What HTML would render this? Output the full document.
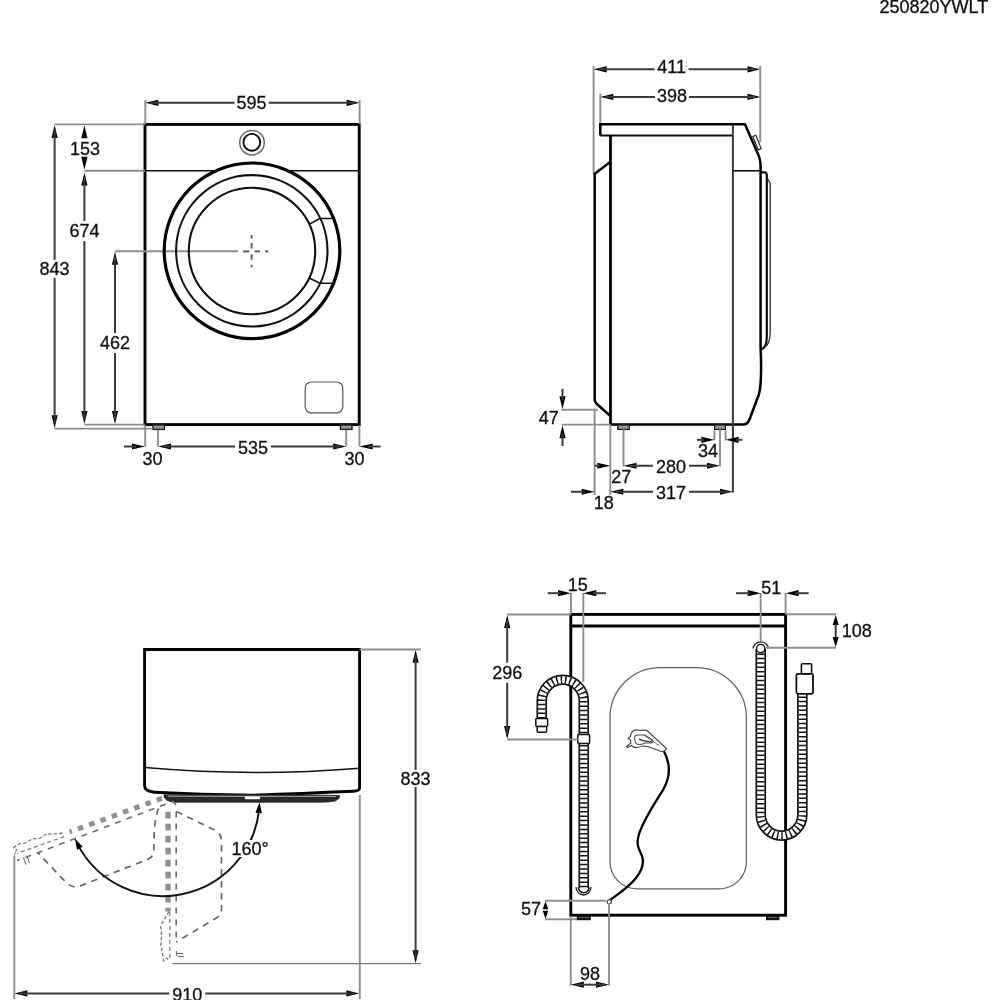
<!DOCTYPE html>
<html><head><meta charset="utf-8"><style>
html,body{margin:0;padding:0;background:#fff;}
svg{display:block;}
text{font-family:"Liberation Sans",sans-serif;}
svg{will-change:transform;}
</style></head><body>
<svg width="1000" height="1000" viewBox="0 0 1000 1000">
<rect width="1000" height="1000" fill="#fff"/>
<text x="933.90" y="13.34" font-size="18" text-anchor="middle" fill="#111" stroke="#111" stroke-width="0.3">250820YWLT</text>
<rect x="145.00" y="124.40" width="214.20" height="300.20" rx="0" stroke="#000" stroke-width="2.9" fill="none" />
<line x1="145.20" y1="170.70" x2="359.40" y2="170.70" stroke="#111" stroke-width="1.5" />
<circle cx="252.00" cy="142.70" r="12.30" stroke="#6a6a6a" stroke-width="1.5" fill="none" />
<circle cx="251.80" cy="142.30" r="8.40" stroke="#111" stroke-width="1.9" fill="none" />
<circle cx="252.00" cy="250.80" r="87.80" stroke="none" stroke-width="0" fill="#fff" />
<line x1="115.00" y1="251.30" x2="238.00" y2="251.30" stroke="#8e8e8e" stroke-width="1.9" />
<circle cx="252.00" cy="250.80" r="87.80" stroke="#000" stroke-width="3.2" fill="none" />
<circle cx="251.80" cy="250.80" r="75.70" stroke="#111" stroke-width="2.1" fill="none" />
<circle cx="252.00" cy="251.00" r="63.20" stroke="#111" stroke-width="2.1" fill="none" />
<path d="M309.8 223.9 L319.7 218.5 H332.5 M309.8 278.3 L319.7 283.2 H332.5" stroke="#111" stroke-width="1.6" fill="none" />
<line x1="243.00" y1="251.40" x2="249.40" y2="251.40" stroke="#555" stroke-width="1.8" />
<line x1="254.50" y1="251.40" x2="260.00" y2="251.40" stroke="#555" stroke-width="1.8" />
<line x1="265.00" y1="251.40" x2="268.30" y2="251.40" stroke="#555" stroke-width="1.8" />
<line x1="251.60" y1="235.00" x2="251.60" y2="238.60" stroke="#555" stroke-width="1.8" />
<line x1="251.60" y1="243.00" x2="251.60" y2="248.50" stroke="#555" stroke-width="1.8" />
<line x1="251.60" y1="254.30" x2="251.60" y2="259.70" stroke="#555" stroke-width="1.8" />
<line x1="251.60" y1="264.70" x2="251.60" y2="267.40" stroke="#555" stroke-width="1.8" />
<rect x="305.20" y="382.00" width="37.60" height="30.80" rx="6" stroke="#555" stroke-width="1.2" fill="none" />
<rect x="152.80" y="425.00" width="11.60" height="4.40" rx="0" stroke="#222" stroke-width="1.4" fill="#999" />
<rect x="340.40" y="425.00" width="11.60" height="4.40" rx="0" stroke="#222" stroke-width="1.4" fill="#999" />
<polygon points="145.30,102.80 158.30,99.70 158.30,105.90" fill="#000"/>
<polygon points="359.60,102.80 346.60,105.90 346.60,99.70" fill="#000"/>
<line x1="150.30" y1="102.80" x2="234.60" y2="102.80" stroke="#3a3a3a" stroke-width="2.0" />
<line x1="268.60" y1="102.80" x2="354.60" y2="102.80" stroke="#3a3a3a" stroke-width="2.0" />
<text x="251.60" y="109.24" font-size="18" text-anchor="middle" fill="#111" stroke="#111" stroke-width="0.3">595</text>
<line x1="145.30" y1="100.00" x2="145.30" y2="124.00" stroke="#8e8e8e" stroke-width="1.9" />
<line x1="359.60" y1="100.00" x2="359.60" y2="124.00" stroke="#8e8e8e" stroke-width="1.9" />
<polygon points="54.60,124.90 57.70,137.90 51.50,137.90" fill="#000"/>
<polygon points="54.60,428.20 51.50,415.20 57.70,415.20" fill="#000"/>
<line x1="54.60" y1="129.90" x2="54.60" y2="259.80" stroke="#3a3a3a" stroke-width="2.0" />
<line x1="54.60" y1="277.80" x2="54.60" y2="423.20" stroke="#3a3a3a" stroke-width="2.0" />
<text x="54.60" y="275.24" font-size="18" text-anchor="middle" fill="#111" stroke="#111" stroke-width="0.3">843</text>
<line x1="54.40" y1="124.40" x2="145.00" y2="124.40" stroke="#8e8e8e" stroke-width="1.9" />
<line x1="54.60" y1="428.60" x2="153.00" y2="428.60" stroke="#8e8e8e" stroke-width="1.9" />
<polygon points="84.40,125.20 87.50,138.20 81.30,138.20" fill="#000"/>
<polygon points="84.40,169.80 81.30,156.80 87.50,156.80" fill="#000"/>
<text x="85.00" y="154.84" font-size="18" text-anchor="middle" fill="#111" stroke="#111" stroke-width="0.3">153</text>
<polygon points="84.40,172.60 87.50,185.60 81.30,185.60" fill="#000"/>
<polygon points="84.40,424.00 81.30,411.00 87.50,411.00" fill="#000"/>
<line x1="84.40" y1="177.60" x2="84.40" y2="221.00" stroke="#3a3a3a" stroke-width="2.0" />
<line x1="84.40" y1="241.00" x2="84.40" y2="419.00" stroke="#3a3a3a" stroke-width="2.0" />
<text x="84.40" y="237.44" font-size="18" text-anchor="middle" fill="#111" stroke="#111" stroke-width="0.3">674</text>
<line x1="84.40" y1="170.80" x2="145.00" y2="170.80" stroke="#8e8e8e" stroke-width="1.9" />
<polygon points="115.00,251.80 118.10,264.80 111.90,264.80" fill="#000"/>
<polygon points="115.00,424.00 111.90,411.00 118.10,411.00" fill="#000"/>
<line x1="115.00" y1="256.80" x2="115.00" y2="333.00" stroke="#3a3a3a" stroke-width="2.0" />
<line x1="115.00" y1="353.00" x2="115.00" y2="419.00" stroke="#3a3a3a" stroke-width="2.0" />
<text x="115.00" y="349.44" font-size="18" text-anchor="middle" fill="#111" stroke="#111" stroke-width="0.3">462</text>
<line x1="84.40" y1="424.60" x2="145.00" y2="424.60" stroke="#8e8e8e" stroke-width="1.9" />
<polygon points="158.00,446.50 171.00,443.40 171.00,449.60" fill="#000"/>
<polygon points="346.20,446.50 333.20,449.60 333.20,443.40" fill="#000"/>
<line x1="163.00" y1="446.50" x2="235.00" y2="446.50" stroke="#3a3a3a" stroke-width="2.0" />
<line x1="271.00" y1="446.50" x2="341.20" y2="446.50" stroke="#3a3a3a" stroke-width="2.0" />
<text x="253.00" y="453.64" font-size="18" text-anchor="middle" fill="#111" stroke="#111" stroke-width="0.3">535</text>
<polygon points="145.00,446.50 132.00,449.60 132.00,443.40" fill="#000"/>
<line x1="124.00" y1="446.50" x2="136.00" y2="446.50" stroke="#3a3a3a" stroke-width="2.0" />
<polygon points="359.60,446.50 372.60,443.40 372.60,449.60" fill="#000"/>
<line x1="368.00" y1="446.50" x2="380.70" y2="446.50" stroke="#3a3a3a" stroke-width="2.0" />
<text x="152.50" y="464.94" font-size="18" text-anchor="middle" fill="#111" stroke="#111" stroke-width="0.3">30</text>
<text x="354.50" y="464.94" font-size="18" text-anchor="middle" fill="#111" stroke="#111" stroke-width="0.3">30</text>
<line x1="145.20" y1="425.00" x2="145.20" y2="446.50" stroke="#8e8e8e" stroke-width="1.9" />
<line x1="359.40" y1="425.00" x2="359.40" y2="446.50" stroke="#8e8e8e" stroke-width="1.9" />
<line x1="158.00" y1="430.00" x2="158.00" y2="446.50" stroke="#8e8e8e" stroke-width="1.9" />
<line x1="346.20" y1="430.00" x2="346.20" y2="446.50" stroke="#8e8e8e" stroke-width="1.9" />
<polygon points="593.60,69.30 606.60,66.20 606.60,72.40" fill="#000"/>
<polygon points="760.50,69.30 747.50,72.40 747.50,66.20" fill="#000"/>
<line x1="598.60" y1="69.30" x2="654.60" y2="69.30" stroke="#3a3a3a" stroke-width="2.0" />
<line x1="688.60" y1="69.30" x2="755.50" y2="69.30" stroke="#3a3a3a" stroke-width="2.0" />
<text x="671.60" y="72.84" font-size="18" text-anchor="middle" fill="#111" stroke="#111" stroke-width="0.3">411</text>
<polygon points="600.30,96.90 613.30,93.80 613.30,100.00" fill="#000"/>
<polygon points="760.50,96.90 747.50,100.00 747.50,93.80" fill="#000"/>
<line x1="605.30" y1="96.90" x2="655.00" y2="96.90" stroke="#3a3a3a" stroke-width="2.0" />
<line x1="689.00" y1="96.90" x2="755.50" y2="96.90" stroke="#3a3a3a" stroke-width="2.0" />
<text x="672.00" y="102.24" font-size="18" text-anchor="middle" fill="#111" stroke="#111" stroke-width="0.3">398</text>
<line x1="593.60" y1="66.00" x2="593.60" y2="174.00" stroke="#8e8e8e" stroke-width="1.9" />
<line x1="600.30" y1="93.50" x2="600.30" y2="124.00" stroke="#8e8e8e" stroke-width="1.9" />
<line x1="760.20" y1="66.00" x2="760.20" y2="142.00" stroke="#8e8e8e" stroke-width="1.9" />
<line x1="686.30" y1="61.50" x2="686.30" y2="72.00" stroke="#aaa" stroke-width="1.0" stroke-dasharray="2.2 1.6"/>
<path d="M600.3 135.5 V124.2 H745 L757.7 153.5 Q760.6 159 760.6 167 V348 C761.6 370 761.6 384 759 394 L749.5 419.5 Q747.5 424.6 743 424.6 H610.5" stroke="#000" stroke-width="2.5" fill="none" />
<path d="M600.3 135.5 H733" stroke="#111" stroke-width="1.8" fill="none" />
<path d="M610.5 135.5 V424.6" stroke="#000" stroke-width="2.8" fill="none" />
<line x1="732.90" y1="124.50" x2="732.90" y2="492.50" stroke="#3c3c3c" stroke-width="2.0" />
<line x1="733.00" y1="170.80" x2="760.60" y2="170.80" stroke="#111" stroke-width="1.6" />
<path d="M752.8 136.5 L755.8 135.2 L761.2 148.6 L758.4 150 Z" stroke="#222" stroke-width="1.2" fill="none" />
<path d="M610.5 161.8 L594.7 173.8 V399.8 Q594.7 402 596.6 403.8 L609.5 415.3" stroke="#000" stroke-width="2.5" fill="none" />
<path d="M760.6 172.4 H765 Q766.8 172.4 766.8 176 V336 Q766.8 348.5 761.2 349" stroke="#000" stroke-width="2.1" fill="none" />
<path d="M766 176 L770.2 183.2 V332 Q770.2 341 766.5 346" stroke="#222" stroke-width="1.2" fill="none" />
<rect x="617.80" y="425.00" width="11.40" height="4.40" rx="0" stroke="#222" stroke-width="1.4" fill="#999" />
<rect x="714.60" y="425.00" width="10.80" height="4.40" rx="0" stroke="#222" stroke-width="1.4" fill="#999" />
<polygon points="562.50,409.20 559.40,396.20 565.60,396.20" fill="#000"/>
<line x1="562.50" y1="388.80" x2="562.50" y2="400.00" stroke="#3a3a3a" stroke-width="2.0" />
<polygon points="562.50,425.20 565.60,438.20 559.40,438.20" fill="#000"/>
<line x1="562.50" y1="434.00" x2="562.50" y2="446.00" stroke="#3a3a3a" stroke-width="2.0" />
<line x1="561.50" y1="409.80" x2="598.00" y2="409.80" stroke="#8e8e8e" stroke-width="1.9" />
<line x1="561.50" y1="424.60" x2="610.50" y2="424.60" stroke="#8e8e8e" stroke-width="1.9" />
<text x="548.75" y="423.94" font-size="18" text-anchor="middle" fill="#111" stroke="#111" stroke-width="0.3">47</text>
<line x1="594.60" y1="410.00" x2="594.60" y2="495.00" stroke="#8e8e8e" stroke-width="1.9" />
<line x1="610.30" y1="425.00" x2="610.30" y2="495.00" stroke="#8e8e8e" stroke-width="1.9" />
<polygon points="610.30,465.75 597.30,468.85 597.30,462.65" fill="#000"/>
<line x1="594.60" y1="465.75" x2="600.00" y2="465.75" stroke="#3a3a3a" stroke-width="2.0" />
<text x="621.30" y="483.44" font-size="18" text-anchor="middle" fill="#111" stroke="#111" stroke-width="0.3">27</text>
<polygon points="594.60,491.75 581.60,494.85 581.60,488.65" fill="#000"/>
<line x1="571.00" y1="491.75" x2="585.00" y2="491.75" stroke="#3a3a3a" stroke-width="2.0" />
<text x="603.75" y="508.94" font-size="18" text-anchor="middle" fill="#111" stroke="#111" stroke-width="0.3">18</text>
<polygon points="610.30,491.75 623.30,488.65 623.30,494.85" fill="#000"/>
<polygon points="733.00,491.75 720.00,494.85 720.00,488.65" fill="#000"/>
<line x1="615.30" y1="491.75" x2="653.00" y2="491.75" stroke="#3a3a3a" stroke-width="2.0" />
<line x1="689.00" y1="491.75" x2="728.00" y2="491.75" stroke="#3a3a3a" stroke-width="2.0" />
<text x="671.00" y="499.14" font-size="18" text-anchor="middle" fill="#111" stroke="#111" stroke-width="0.3">317</text>
<polygon points="623.50,465.75 636.50,462.65 636.50,468.85" fill="#000"/>
<polygon points="720.00,465.75 707.00,468.85 707.00,462.65" fill="#000"/>
<line x1="628.50" y1="465.75" x2="653.00" y2="465.75" stroke="#3a3a3a" stroke-width="2.0" />
<line x1="689.00" y1="465.75" x2="715.00" y2="465.75" stroke="#3a3a3a" stroke-width="2.0" />
<text x="671.00" y="472.64" font-size="18" text-anchor="middle" fill="#111" stroke="#111" stroke-width="0.3">280</text>
<line x1="623.50" y1="429.50" x2="623.50" y2="466.50" stroke="#8e8e8e" stroke-width="1.9" />
<line x1="720.00" y1="429.50" x2="720.00" y2="466.50" stroke="#8e8e8e" stroke-width="1.9" />
<line x1="714.40" y1="429.50" x2="714.40" y2="440.50" stroke="#8e8e8e" stroke-width="1.9" />
<line x1="725.60" y1="429.50" x2="725.60" y2="440.50" stroke="#8e8e8e" stroke-width="1.9" />
<polygon points="714.40,439.80 701.40,442.90 701.40,436.70" fill="#000"/>
<line x1="697.00" y1="439.80" x2="704.00" y2="439.80" stroke="#3a3a3a" stroke-width="2.0" />
<polygon points="725.60,439.80 738.60,436.70 738.60,442.90" fill="#000"/>
<line x1="736.00" y1="439.80" x2="742.40" y2="439.80" stroke="#3a3a3a" stroke-width="2.0" />
<text x="708.00" y="457.24" font-size="18" text-anchor="middle" fill="#111" stroke="#111" stroke-width="0.3">34</text>
<path d="M144.6 649.5 H359.6 V787.8 Q359.6 791 353.2 791.3 Q300 793.7 252 795.2 Q200 794.5 154.4 792.2 Q144.6 791.5 144.6 785.6 Z" stroke="#000" stroke-width="2.9" fill="none" />
<path d="M145 767.5 Q252 777 359.6 768.2" stroke="#111" stroke-width="1.6" fill="none" />
<path d="M164 794.8 Q300 794.5 339.2 795.5 Q341 798 335 801 Q330 802.2 320 802.2 H176 Q166 802 164 797 Z" stroke="#222" stroke-width="0.8" fill="#2a2a2a" />
<path d="M168 796.2 Q260 796 336 796.5" stroke="#999" stroke-width="1.2" fill="none" />
<rect x="244.70" y="796.60" width="15.40" height="2.60" rx="1" stroke="none" stroke-width="0" fill="#fff" />
<polygon points="415.60,649.80 418.70,662.80 412.50,662.80" fill="#000"/>
<polygon points="415.60,963.30 412.50,950.30 418.70,950.30" fill="#000"/>
<line x1="415.60" y1="654.80" x2="415.60" y2="770.00" stroke="#3a3a3a" stroke-width="2.0" />
<line x1="415.60" y1="787.00" x2="415.60" y2="958.30" stroke="#3a3a3a" stroke-width="2.0" />
<text x="415.60" y="784.94" font-size="18" text-anchor="middle" fill="#111" stroke="#111" stroke-width="0.3">833</text>
<line x1="359.60" y1="649.50" x2="421.00" y2="649.50" stroke="#8e8e8e" stroke-width="1.9" />
<line x1="172.50" y1="963.60" x2="421.00" y2="963.60" stroke="#777" stroke-width="1.4" />
<polygon points="14.30,993.40 27.30,990.30 27.30,996.50" fill="#000"/>
<polygon points="359.40,993.40 346.40,996.50 346.40,990.30" fill="#000"/>
<line x1="19.30" y1="993.40" x2="169.30" y2="993.40" stroke="#3a3a3a" stroke-width="2.0" />
<line x1="205.30" y1="993.40" x2="354.40" y2="993.40" stroke="#3a3a3a" stroke-width="2.0" />
<text x="187.30" y="1000.84" font-size="18" text-anchor="middle" fill="#111" stroke="#111" stroke-width="0.3">910</text>
<line x1="14.30" y1="856.00" x2="14.30" y2="999.00" stroke="#8e8e8e" stroke-width="1.9" />
<line x1="359.80" y1="795.00" x2="359.80" y2="999.00" stroke="#8e8e8e" stroke-width="1.9" />
<path d="M168 811.8 V911.5" stroke="#8f8f8f" stroke-width="5.4" fill="none" stroke-dasharray="6.8 5.2" stroke-linecap="butt" stroke-linejoin="round"/>
<path d="M169.8 912 V961" stroke="#777" stroke-width="1.2" fill="none" stroke-dasharray="4 3" stroke-linecap="butt" stroke-linejoin="round"/>
<path d="M169 911.5 L163.5 920.5 L160.8 926.8 L161.7 935.8 L160.8 944.8 L162.6 953.8 L163.5 961 L166.5 958 L169.8 961" stroke="#777" stroke-width="1.3" fill="none" stroke-dasharray="3.5 2" stroke-linecap="butt" stroke-linejoin="round"/>
<path d="M172 801 Q176.2 803 176.2 808 V943" stroke="#6a6a6a" stroke-width="1.6" fill="none" stroke-dasharray="6 6" stroke-linecap="butt" stroke-linejoin="round"/>
<path d="M176.4 811.5 L215.5 830.5 Q221.5 834 221.5 841 V910 Q221.5 915 215.5 918.5 L176.2 942" stroke="#666" stroke-width="1.7" fill="none" stroke-dasharray="6.5 5.5" stroke-linecap="butt" stroke-linejoin="round"/>
<line x1="176.50" y1="951.00" x2="176.50" y2="956.00" stroke="#777" stroke-width="1.2" />
<line x1="177.00" y1="953.50" x2="183.00" y2="953.50" stroke="#777" stroke-width="1.2" />
<line x1="178.00" y1="956.50" x2="184.00" y2="956.50" stroke="#777" stroke-width="1.2" />
<path d="M162 798.2 L69.6 832" stroke="#8f8f8f" stroke-width="5.0" fill="none" stroke-dasharray="5.5 6.5" stroke-linecap="butt" stroke-linejoin="round"/>
<path d="M62.6 833 L53 834.2 L46.6 833.8 L40.2 838.2 L32.2 839 L25 843 L19.4 843.8 L13.8 847.4 L17 850.2" stroke="#777" stroke-width="1.3" fill="none" stroke-dasharray="3.5 2" stroke-linecap="butt" stroke-linejoin="round"/>
<path d="M64.2 836.6 L17 853.4" stroke="#777" stroke-width="1.2" fill="none" stroke-dasharray="4 3" stroke-linecap="butt" stroke-linejoin="round"/>
<path d="M165.6 804.2 L17 860.6" stroke="#6a6a6a" stroke-width="1.6" fill="none" stroke-dasharray="6 6" stroke-linecap="butt" stroke-linejoin="round"/>
<path d="M158.4 808.5 Q154.6 820 154.2 833 L153.8 851 Q153.6 856.5 148.5 859 L80 886 Q73 888.5 67 883.4 L37.8 852.7" stroke="#666" stroke-width="1.7" fill="none" stroke-dasharray="6.5 5.5" stroke-linecap="butt" stroke-linejoin="round"/>
<line x1="23.40" y1="857.40" x2="26.00" y2="864.60" stroke="#777" stroke-width="1.2" />
<line x1="27.00" y1="856.00" x2="29.50" y2="863.00" stroke="#777" stroke-width="1.2" />
<path d="M17 850.2 Q14.3 852.5 14.3 858" stroke="#8e8e8e" stroke-width="1.1" fill="none" />
<path d="M258.98 810.52 A96.5 96.5 0 0 1 78.70 846.38" stroke="#111" stroke-width="2.0" fill="none" />
<polygon points="259.57,801.96 261.83,813.19 255.45,812.65" fill="#000"/>
<polygon points="74.81,838.54 82.69,846.86 77.00,849.79" fill="#000"/>
<rect x="232.00" y="840.00" width="38.00" height="17.00" rx="0" stroke="none" stroke-width="0" fill="#fff" />
<text x="250.00" y="855.44" font-size="18" text-anchor="middle" fill="#111" stroke="#111" stroke-width="0.3">160°</text>
<rect x="570.80" y="614.40" width="214.80" height="300.80" rx="0" stroke="#000" stroke-width="2.9" fill="none" />
<line x1="570.80" y1="626.00" x2="785.60" y2="626.00" stroke="#000" stroke-width="2.9" />
<path d="M610 717.6 A50 50 0 0 1 660 667.6 H696.4 A50 50 0 0 1 746.4 717.6 V861.8 A27 27 0 0 1 719.4 888.8 H637 A27 27 0 0 1 610 861.8 Z" stroke="#666" stroke-width="1.3" fill="none" />
<rect x="576.80" y="915.20" width="14.00" height="5.00" rx="0" stroke="none" stroke-width="0" fill="#111" />
<line x1="579.00" y1="917.60" x2="589.00" y2="917.60" stroke="#666" stroke-width="1" />
<rect x="766.00" y="915.20" width="13.40" height="5.00" rx="0" stroke="none" stroke-width="0" fill="#111" />
<line x1="768.00" y1="917.60" x2="777.00" y2="917.60" stroke="#666" stroke-width="1" />
<path d="M541.75 718.5 V700.75 A21 21 0 0 1 583.75 700.75 V888" stroke="#111" stroke-width="10.6" fill="none" stroke-linecap="butt"/>
<path d="M541.75 718.5 V700.75 A21 21 0 0 1 583.75 700.75 V888" stroke="#fff" stroke-width="7.199999999999999" fill="none" stroke-linecap="butt"/>
<path d="M541.75 718.5 V700.75 A21 21 0 0 1 583.75 700.75 V888" stroke="#111" stroke-width="7.3999999999999995" fill="none" stroke-linecap="butt" stroke-dasharray="1.5 2.9000000000000004"/>
<path d="M578.5 887.5 A5.25 5.25 0 0 0 589 887.5" stroke="#111" stroke-width="1.6" fill="none" />
<path d="M576 887 A7.5 8 0 0 0 591 887" stroke="#222" stroke-width="1.3" fill="none" />
<rect x="535.80" y="718.60" width="11.80" height="8.00" rx="1" stroke="#111" stroke-width="1.5" fill="#fff" />
<rect x="537.20" y="726.60" width="9.40" height="5.60" rx="1" stroke="#111" stroke-width="1.5" fill="#fff" />
<rect x="577.80" y="734.60" width="11.80" height="9.00" rx="1" stroke="#111" stroke-width="1.5" fill="#fff" />
<path d="M760.75 649 V814.8 A20.8 20.8 0 0 0 802.35 814.8 V694" stroke="#111" stroke-width="10.6" fill="none" stroke-linecap="butt"/>
<path d="M760.75 649 V814.8 A20.8 20.8 0 0 0 802.35 814.8 V694" stroke="#fff" stroke-width="7.199999999999999" fill="none" stroke-linecap="butt"/>
<path d="M760.75 649 V814.8 A20.8 20.8 0 0 0 802.35 814.8 V694" stroke="#111" stroke-width="7.3999999999999995" fill="none" stroke-linecap="butt" stroke-dasharray="1.5 2.9000000000000004"/>
<path d="M753 648.5 A7.9 7.9 0 0 1 768.6 648.5" stroke="#222" stroke-width="1.3" fill="none" />
<circle cx="760.70" cy="648.60" r="4.20" stroke="#111" stroke-width="1.4" fill="#fff" />
<rect x="796.40" y="673.80" width="16.60" height="20.00" rx="1.5" stroke="#111" stroke-width="1.8" fill="#fff" />
<rect x="801.40" y="663.80" width="10.20" height="10.00" rx="1" stroke="#111" stroke-width="1.6" fill="#fff" />
<path d="M609.5 900.5 C618 894 628 888 636 878 C643 869 644 862 642 856 C639 849 636 845 638.5 836 C642 822 655 803 663 790 C670 778 671 764 663.5 750.5" stroke="#000" stroke-width="2.3" fill="none" />
<circle cx="609.30" cy="901.80" r="2.10" stroke="#444" stroke-width="1.2" fill="#fff" />
<path d="M664.5 751 L666.5 748.5 L647 730.5 Q644 729.8 640 730.5 L637.5 730 Q634 729.5 632 732 Q630.5 734 630.5 736.5 L628.2 738.5 L630.5 740 Q630.5 742.5 631 743 L626.5 746.5 L627.5 747.5 L631.5 745.5 Q634 748 637.5 747.5 Q641 746 645 746 L652 748 L661 751.5 Z" stroke="#444" stroke-width="1.2" fill="#fff" />
<path d="M634.5 737 Q635 735 638 735 L645 735 L653 740.5 Q653.5 742.5 651 743 L645 743 Q640 745.5 637 744 Q634.5 742 634.5 737 Z" stroke="#555" stroke-width="1.1" fill="none" />
<path d="M639 739 Q641 741 652 741.8" stroke="#333" stroke-width="1.2" fill="none" />
<path d="M643.5 734.8 L659 745.5" stroke="#666" stroke-width="1.0" fill="none" />
<line x1="571.00" y1="593.00" x2="571.00" y2="614.00" stroke="#8e8e8e" stroke-width="1.9" />
<line x1="583.30" y1="593.00" x2="583.30" y2="682.00" stroke="#8e8e8e" stroke-width="1.9" />
<polygon points="571.00,593.20 558.00,596.30 558.00,590.10" fill="#000"/>
<line x1="547.70" y1="593.20" x2="561.00" y2="593.20" stroke="#3a3a3a" stroke-width="2.0" />
<polygon points="583.30,593.20 596.30,590.10 596.30,596.30" fill="#000"/>
<line x1="593.00" y1="593.20" x2="606.00" y2="593.20" stroke="#3a3a3a" stroke-width="2.0" />
<text x="577.70" y="590.74" font-size="18" text-anchor="middle" fill="#111" stroke="#111" stroke-width="0.3">15</text>
<line x1="760.70" y1="593.00" x2="760.70" y2="641.00" stroke="#8e8e8e" stroke-width="1.9" />
<line x1="785.60" y1="593.00" x2="785.60" y2="614.00" stroke="#8e8e8e" stroke-width="1.9" />
<polygon points="760.70,593.20 747.70,596.30 747.70,590.10" fill="#000"/>
<line x1="736.00" y1="593.20" x2="750.00" y2="593.20" stroke="#3a3a3a" stroke-width="2.0" />
<polygon points="785.60,593.20 798.60,590.10 798.60,596.30" fill="#000"/>
<line x1="795.00" y1="593.20" x2="808.70" y2="593.20" stroke="#3a3a3a" stroke-width="2.0" />
<text x="771.20" y="593.64" font-size="18" text-anchor="middle" fill="#111" stroke="#111" stroke-width="0.3">51</text>
<line x1="785.60" y1="614.30" x2="836.00" y2="614.30" stroke="#8e8e8e" stroke-width="1.9" />
<line x1="766.00" y1="647.70" x2="836.00" y2="647.70" stroke="#8e8e8e" stroke-width="1.9" />
<polygon points="835.70,615.00 838.70,625.00 832.70,625.00" fill="#000"/>
<polygon points="835.70,647.00 832.70,637.00 838.70,637.00" fill="#000"/>
<line x1="835.70" y1="624.00" x2="835.70" y2="638.00" stroke="#3a3a3a" stroke-width="2.0" />
<text x="856.70" y="637.14" font-size="18" text-anchor="middle" fill="#111" stroke="#111" stroke-width="0.3">108</text>
<polygon points="507.20,615.00 510.30,628.00 504.10,628.00" fill="#000"/>
<polygon points="507.20,739.00 504.10,726.00 510.30,726.00" fill="#000"/>
<line x1="507.20" y1="620.00" x2="507.20" y2="662.70" stroke="#3a3a3a" stroke-width="2.0" />
<line x1="507.20" y1="682.70" x2="507.20" y2="734.00" stroke="#3a3a3a" stroke-width="2.0" />
<text x="507.20" y="679.14" font-size="18" text-anchor="middle" fill="#111" stroke="#111" stroke-width="0.3">296</text>
<line x1="507.00" y1="614.50" x2="571.00" y2="614.50" stroke="#8e8e8e" stroke-width="1.9" />
<line x1="507.00" y1="739.50" x2="578.00" y2="739.50" stroke="#8e8e8e" stroke-width="1.9" />
<line x1="545.00" y1="900.70" x2="606.00" y2="900.70" stroke="#8e8e8e" stroke-width="1.9" />
<line x1="545.00" y1="919.30" x2="577.00" y2="919.30" stroke="#8e8e8e" stroke-width="1.9" />
<polygon points="545.50,901.20 548.30,909.20 542.70,909.20" fill="#000"/>
<polygon points="545.50,918.80 542.70,910.80 548.30,910.80" fill="#000"/>
<text x="531.00" y="915.44" font-size="18" text-anchor="middle" fill="#111" stroke="#111" stroke-width="0.3">57</text>
<line x1="570.80" y1="916.00" x2="570.80" y2="985.50" stroke="#8e8e8e" stroke-width="1.9" />
<line x1="609.00" y1="903.00" x2="609.00" y2="985.50" stroke="#8e8e8e" stroke-width="1.9" />
<polygon points="570.80,984.70 583.80,981.60 583.80,987.80" fill="#000"/>
<polygon points="609.00,984.70 596.00,987.80 596.00,981.60" fill="#000"/>
<line x1="575.00" y1="984.70" x2="605.00" y2="984.70" stroke="#3a3a3a" stroke-width="2.0" />
<text x="590.00" y="979.94" font-size="18" text-anchor="middle" fill="#111" stroke="#111" stroke-width="0.3">98</text>
</svg>
</body></html>
